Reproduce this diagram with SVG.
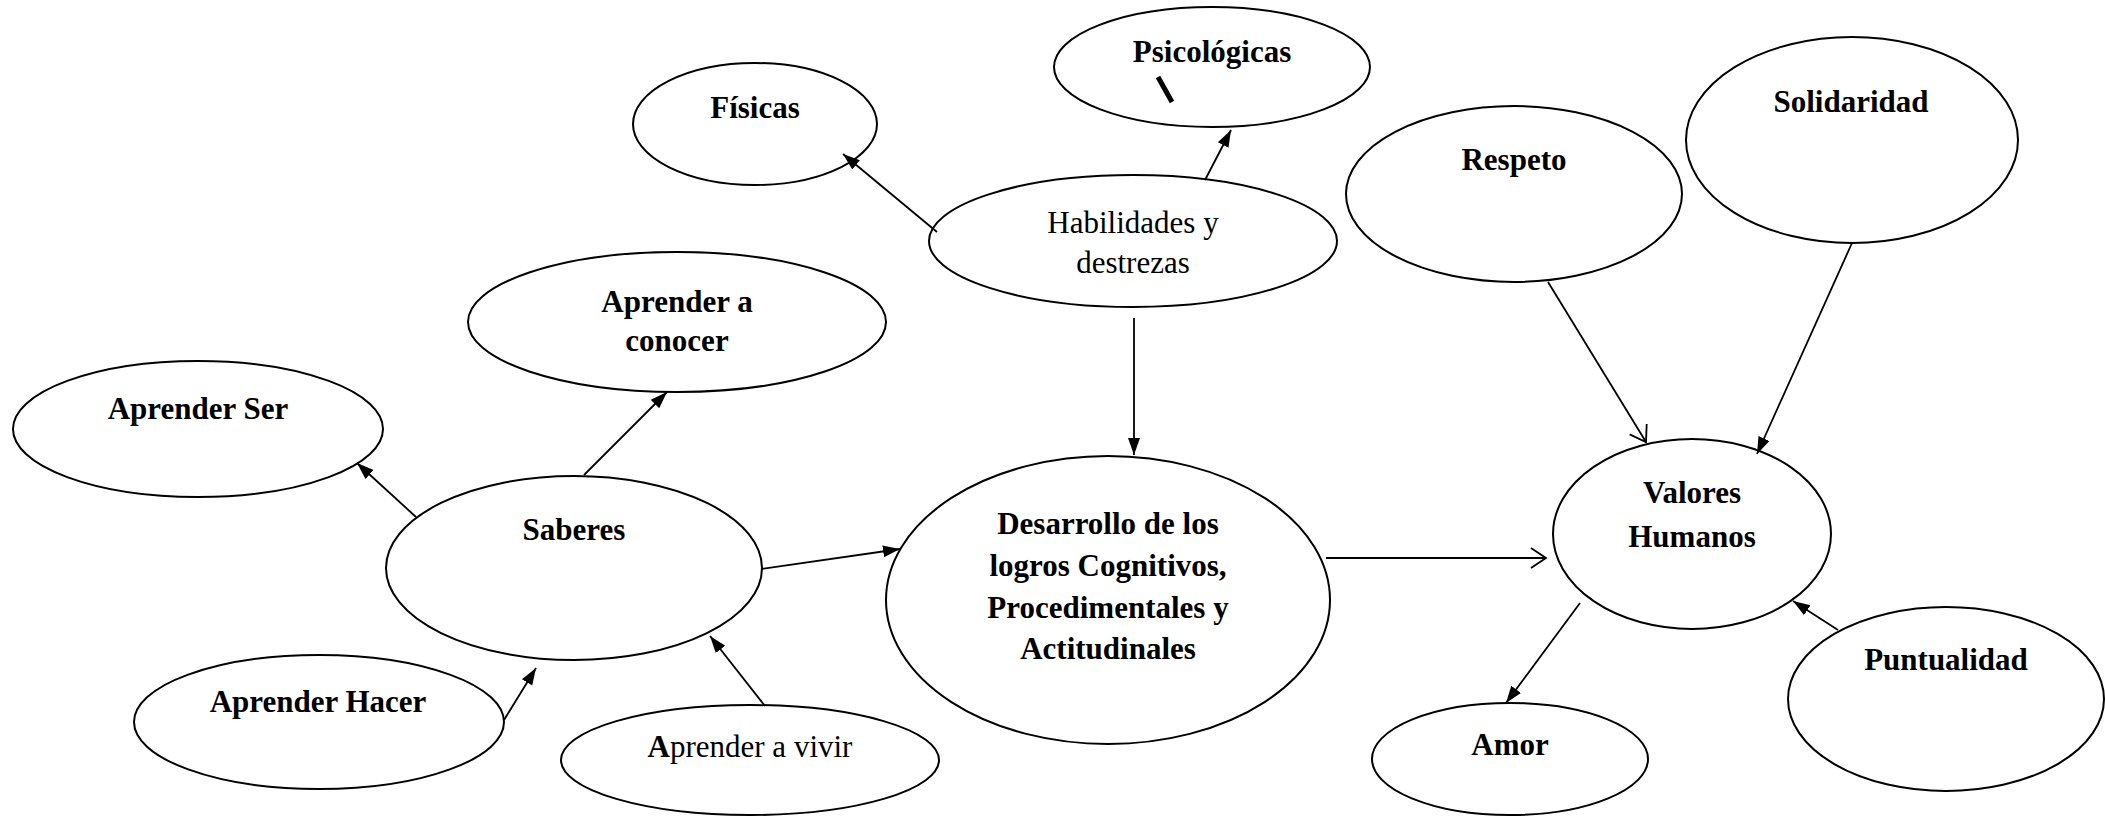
<svg xmlns="http://www.w3.org/2000/svg" width="2105" height="816" viewBox="0 0 2105 816">
<style>
.n ellipse{fill:#fff;stroke:#000;stroke-width:2}
text{font-family:"Liberation Serif","Times New Roman",serif;font-size:31px;fill:#000;text-anchor:middle}
.b{font-weight:bold}
.c line{stroke:#000;stroke-width:1.8}
</style>
<defs>
<marker id="f" markerUnits="userSpaceOnUse" markerWidth="18" markerHeight="14" refX="17" refY="7" orient="auto"><path d="M0,1 L17,7 L0,13 z" fill="#000"/></marker>
<marker id="o" markerUnits="userSpaceOnUse" markerWidth="18" markerHeight="22" refX="16" refY="11" orient="auto"><path d="M1,1 L16,11 L1,21" fill="none" stroke="#000" stroke-width="1.8"/></marker>
</defs>
<rect width="2105" height="816" fill="#fff"/>
<g id="fisicas" class="n"><ellipse cx="755" cy="124" rx="122" ry="61"/><text class="b" x="755" y="118">Físicas</text></g>
<g id="psicologicas" class="n"><ellipse cx="1212" cy="67" rx="158" ry="60"/><text class="b" x="1212" y="62">Psicológicas</text><line x1="1158" y1="77" x2="1172" y2="102" stroke="#000" stroke-width="5"/></g>
<g id="habilidades" class="n"><ellipse cx="1133" cy="241" rx="204" ry="66"/><text x="1133" y="233">Habilidades y</text><text x="1133" y="273">destrezas</text></g>
<g id="conocer" class="n"><ellipse cx="677" cy="322" rx="209" ry="70"/><text class="b" x="677" y="312">Aprender a</text><text class="b" x="677" y="351">conocer</text></g>
<g id="ser" class="n"><ellipse cx="198" cy="429" rx="185" ry="68"/><text class="b" x="198" y="419">Aprender Ser</text></g>
<g id="saberes" class="n"><ellipse cx="574" cy="568" rx="188" ry="92"/><text class="b" x="574" y="540">Saberes</text></g>
<g id="hacer" class="n"><ellipse cx="319" cy="722" rx="185" ry="67"/><text class="b" x="318" y="712">Aprender Hacer</text></g>
<g id="vivir" class="n"><ellipse cx="750" cy="760" rx="189" ry="55"/><text x="750" y="757"><tspan font-weight="bold">A</tspan>prender a vivir</text></g>
<g id="desarrollo" class="n"><ellipse cx="1108" cy="600" rx="222" ry="144"/><text class="b" x="1108" y="534">Desarrollo de los</text><text class="b" x="1108" y="576">logros Cognitivos,</text><text class="b" x="1108" y="618">Procedimentales y</text><text class="b" x="1108" y="659">Actitudinales</text></g>
<g id="respeto" class="n"><ellipse cx="1514" cy="194" rx="168" ry="88"/><text class="b" x="1514" y="170">Respeto</text></g>
<g id="solidaridad" class="n"><ellipse cx="1852" cy="140" rx="166" ry="103"/><text class="b" x="1851" y="112">Solidaridad</text></g>
<g id="valores" class="n"><ellipse cx="1692" cy="534" rx="139" ry="95"/><text class="b" x="1692" y="503">Valores</text><text class="b" x="1692" y="547">Humanos</text></g>
<g id="amor" class="n"><ellipse cx="1510" cy="759" rx="138" ry="56"/><text class="b" x="1510" y="755">Amor</text></g>
<g id="puntualidad" class="n"><ellipse cx="1946" cy="699" rx="158" ry="92"/><text class="b" x="1946" y="670">Puntualidad</text></g>
<g id="connectors" class="c">
<line x1="937" y1="232" x2="843" y2="154" marker-end="url(#f)"/>
<line x1="1205" y1="180" x2="1231" y2="130" marker-end="url(#f)"/>
<line x1="1134" y1="318" x2="1134" y2="455" marker-end="url(#f)"/>
<line x1="416" y1="517" x2="357" y2="463" marker-end="url(#f)"/>
<line x1="584" y1="475" x2="667" y2="392" marker-end="url(#f)"/>
<line x1="761" y1="569" x2="900" y2="549" marker-end="url(#f)"/>
<line x1="504" y1="720" x2="536" y2="668" marker-end="url(#f)"/>
<line x1="765" y1="706" x2="710" y2="636" marker-end="url(#f)"/>
<line x1="1326" y1="558" x2="1546" y2="558" stroke-width="2.4" marker-end="url(#o)"/>
<line x1="1548" y1="282" x2="1646" y2="442" marker-end="url(#o)"/>
<line x1="1852" y1="243" x2="1757" y2="454" marker-end="url(#f)"/>
<line x1="1580" y1="603" x2="1506" y2="703" marker-end="url(#f)"/>
<line x1="1838" y1="630" x2="1793" y2="601" marker-end="url(#f)"/>
</g>
</svg>
